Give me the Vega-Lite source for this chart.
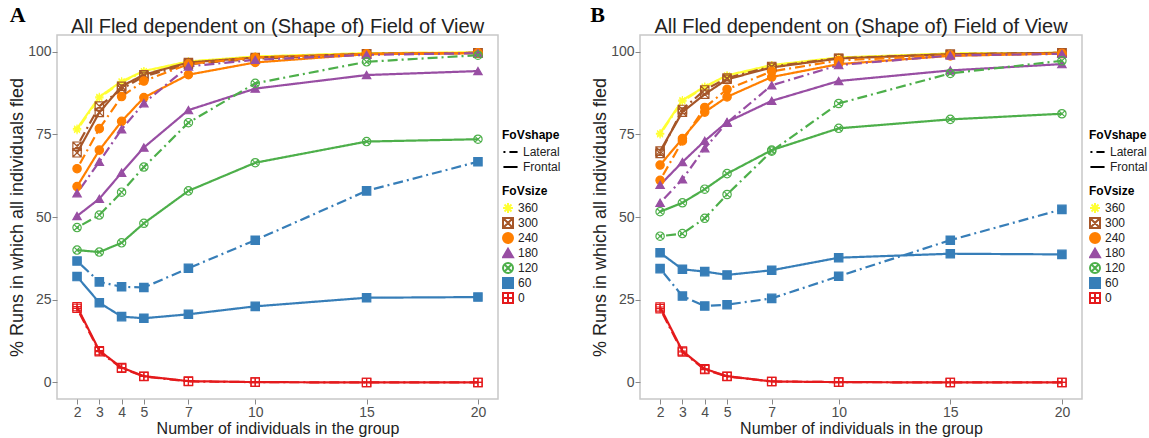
{
  "$schema": "https://vega.github.io/schema/vega-lite/v6.json",
  "background": "white",
  "padding": {"left": 7, "top": 3, "right": 0, "bottom": 0},
  "spacing": 27,
  "config": {
    "font": "Liberation Sans",
    "view": {"stroke": "#c8c8c8", "strokeWidth": 1.5},
    "axis": {"grid": false, "domain": false, "tickColor": "#888888", "tickSize": 5, "labelFontSize": 14, "labelColor": "#4d4d4d", "titleFontSize": 16, "titleFontWeight": "normal", "titleColor": "#222222", "labelPadding": 1},
    "legend": {"titleFontSize": 12, "titleFontWeight": "bold", "labelFontSize": 12, "labelColor": "#222222", "offset": 4, "rowPadding": 1, "clipHeight": 14, "symbolStrokeWidth": 2, "titlePadding": 3, "labelOffset": 4, "layout": {"right": {"anchor": "middle", "direction": "vertical", "margin": 12}}},
    "title": {"fontSize": 20, "fontWeight": "normal", "color": "#222222", "offset": -33}
  },
  "data": {"values": [
    {"panel":"A","shape":"Frontal","size":"360","n":2,"pct":76.7},{"panel":"A","shape":"Frontal","size":"360","n":3,"pct":86.3},{"panel":"A","shape":"Frontal","size":"360","n":4,"pct":91.0},{"panel":"A","shape":"Frontal","size":"360","n":5,"pct":94.1},{"panel":"A","shape":"Frontal","size":"360","n":7,"pct":97.0},{"panel":"A","shape":"Frontal","size":"360","n":10,"pct":98.5},{"panel":"A","shape":"Frontal","size":"360","n":15,"pct":99.5},{"panel":"A","shape":"Frontal","size":"360","n":20,"pct":99.7},
    {"panel":"A","shape":"Lateral","size":"360","n":2,"pct":76.3},{"panel":"A","shape":"Lateral","size":"360","n":3,"pct":86.0},{"panel":"A","shape":"Lateral","size":"360","n":4,"pct":90.8},{"panel":"A","shape":"Lateral","size":"360","n":5,"pct":93.9},{"panel":"A","shape":"Lateral","size":"360","n":7,"pct":96.9},{"panel":"A","shape":"Lateral","size":"360","n":10,"pct":98.4},{"panel":"A","shape":"Lateral","size":"360","n":15,"pct":99.5},{"panel":"A","shape":"Lateral","size":"360","n":20,"pct":99.7},
    {"panel":"A","shape":"Frontal","size":"300","n":2,"pct":69.4},{"panel":"A","shape":"Frontal","size":"300","n":3,"pct":81.6},{"panel":"A","shape":"Frontal","size":"300","n":4,"pct":89.5},{"panel":"A","shape":"Frontal","size":"300","n":5,"pct":93.0},{"panel":"A","shape":"Frontal","size":"300","n":7,"pct":96.7},{"panel":"A","shape":"Frontal","size":"300","n":10,"pct":98.2},{"panel":"A","shape":"Frontal","size":"300","n":15,"pct":99.3},{"panel":"A","shape":"Frontal","size":"300","n":20,"pct":99.6},
    {"panel":"A","shape":"Lateral","size":"300","n":2,"pct":71.4},{"panel":"A","shape":"Lateral","size":"300","n":3,"pct":83.5},{"panel":"A","shape":"Lateral","size":"300","n":4,"pct":88.7},{"panel":"A","shape":"Lateral","size":"300","n":5,"pct":92.5},{"panel":"A","shape":"Lateral","size":"300","n":7,"pct":96.2},{"panel":"A","shape":"Lateral","size":"300","n":10,"pct":97.8},{"panel":"A","shape":"Lateral","size":"300","n":15,"pct":99.3},{"panel":"A","shape":"Lateral","size":"300","n":20,"pct":99.6},
    {"panel":"A","shape":"Frontal","size":"240","n":2,"pct":59.2},{"panel":"A","shape":"Frontal","size":"240","n":3,"pct":70.2},{"panel":"A","shape":"Frontal","size":"240","n":4,"pct":78.9},{"panel":"A","shape":"Frontal","size":"240","n":5,"pct":86.1},{"panel":"A","shape":"Frontal","size":"240","n":7,"pct":93.0},{"panel":"A","shape":"Frontal","size":"240","n":10,"pct":96.7},{"panel":"A","shape":"Frontal","size":"240","n":15,"pct":99.2},{"panel":"A","shape":"Frontal","size":"240","n":20,"pct":99.5},
    {"panel":"A","shape":"Lateral","size":"240","n":2,"pct":64.6},{"panel":"A","shape":"Lateral","size":"240","n":3,"pct":76.7},{"panel":"A","shape":"Lateral","size":"240","n":4,"pct":86.4},{"panel":"A","shape":"Lateral","size":"240","n":5,"pct":91.1},{"panel":"A","shape":"Lateral","size":"240","n":7,"pct":96.2},{"panel":"A","shape":"Lateral","size":"240","n":10,"pct":98.2},{"panel":"A","shape":"Lateral","size":"240","n":15,"pct":99.3},{"panel":"A","shape":"Lateral","size":"240","n":20,"pct":99.6},
    {"panel":"A","shape":"Frontal","size":"180","n":2,"pct":50.3},{"panel":"A","shape":"Frontal","size":"180","n":3,"pct":55.5},{"panel":"A","shape":"Frontal","size":"180","n":4,"pct":63.4},{"panel":"A","shape":"Frontal","size":"180","n":5,"pct":71.0},{"panel":"A","shape":"Frontal","size":"180","n":7,"pct":82.3},{"panel":"A","shape":"Frontal","size":"180","n":10,"pct":88.8},{"panel":"A","shape":"Frontal","size":"180","n":15,"pct":92.9},{"panel":"A","shape":"Frontal","size":"180","n":20,"pct":94.1},
    {"panel":"A","shape":"Lateral","size":"180","n":2,"pct":57.2},{"panel":"A","shape":"Lateral","size":"180","n":3,"pct":66.7},{"panel":"A","shape":"Lateral","size":"180","n":4,"pct":76.5},{"panel":"A","shape":"Lateral","size":"180","n":5,"pct":84.4},{"panel":"A","shape":"Lateral","size":"180","n":7,"pct":95.5},{"panel":"A","shape":"Lateral","size":"180","n":10,"pct":97.5},{"panel":"A","shape":"Lateral","size":"180","n":15,"pct":99.0},{"panel":"A","shape":"Lateral","size":"180","n":20,"pct":99.5},
    {"panel":"A","shape":"Frontal","size":"120","n":2,"pct":40.0},{"panel":"A","shape":"Frontal","size":"120","n":3,"pct":39.4},{"panel":"A","shape":"Frontal","size":"120","n":4,"pct":42.2},{"panel":"A","shape":"Frontal","size":"120","n":5,"pct":48.1},{"panel":"A","shape":"Frontal","size":"120","n":7,"pct":57.9},{"panel":"A","shape":"Frontal","size":"120","n":10,"pct":66.4},{"panel":"A","shape":"Frontal","size":"120","n":15,"pct":72.8},{"panel":"A","shape":"Frontal","size":"120","n":20,"pct":73.5},
    {"panel":"A","shape":"Lateral","size":"120","n":2,"pct":46.8},{"panel":"A","shape":"Lateral","size":"120","n":3,"pct":50.6},{"panel":"A","shape":"Lateral","size":"120","n":4,"pct":57.5},{"panel":"A","shape":"Lateral","size":"120","n":5,"pct":65.1},{"panel":"A","shape":"Lateral","size":"120","n":7,"pct":78.5},{"panel":"A","shape":"Lateral","size":"120","n":10,"pct":90.4},{"panel":"A","shape":"Lateral","size":"120","n":15,"pct":96.9},{"panel":"A","shape":"Lateral","size":"120","n":20,"pct":98.9},
    {"panel":"A","shape":"Frontal","size":"60","n":2,"pct":32.0},{"panel":"A","shape":"Frontal","size":"60","n":3,"pct":24.1},{"panel":"A","shape":"Frontal","size":"60","n":4,"pct":19.9},{"panel":"A","shape":"Frontal","size":"60","n":5,"pct":19.4},{"panel":"A","shape":"Frontal","size":"60","n":7,"pct":20.6},{"panel":"A","shape":"Frontal","size":"60","n":10,"pct":23.0},{"panel":"A","shape":"Frontal","size":"60","n":15,"pct":25.6},{"panel":"A","shape":"Frontal","size":"60","n":20,"pct":25.8},
    {"panel":"A","shape":"Lateral","size":"60","n":2,"pct":36.7},{"panel":"A","shape":"Lateral","size":"60","n":3,"pct":30.4},{"panel":"A","shape":"Lateral","size":"60","n":4,"pct":28.9},{"panel":"A","shape":"Lateral","size":"60","n":5,"pct":28.7},{"panel":"A","shape":"Lateral","size":"60","n":7,"pct":34.5},{"panel":"A","shape":"Lateral","size":"60","n":10,"pct":43.0},{"panel":"A","shape":"Lateral","size":"60","n":15,"pct":57.9},{"panel":"A","shape":"Lateral","size":"60","n":20,"pct":66.7},
    {"panel":"A","shape":"Frontal","size":"0","n":2,"pct":22.9},{"panel":"A","shape":"Frontal","size":"0","n":3,"pct":9.6},{"panel":"A","shape":"Frontal","size":"0","n":4,"pct":4.5},{"panel":"A","shape":"Frontal","size":"0","n":5,"pct":1.9},{"panel":"A","shape":"Frontal","size":"0","n":7,"pct":0.4},{"panel":"A","shape":"Frontal","size":"0","n":10,"pct":0.1},{"panel":"A","shape":"Frontal","size":"0","n":15,"pct":0.0},{"panel":"A","shape":"Frontal","size":"0","n":20,"pct":0.0},
    {"panel":"A","shape":"Lateral","size":"0","n":2,"pct":22.4},{"panel":"A","shape":"Lateral","size":"0","n":3,"pct":9.3},{"panel":"A","shape":"Lateral","size":"0","n":4,"pct":4.3},{"panel":"A","shape":"Lateral","size":"0","n":5,"pct":1.8},{"panel":"A","shape":"Lateral","size":"0","n":7,"pct":0.3},{"panel":"A","shape":"Lateral","size":"0","n":10,"pct":0.1},{"panel":"A","shape":"Lateral","size":"0","n":15,"pct":0.0},{"panel":"A","shape":"Lateral","size":"0","n":20,"pct":0.0},

    {"panel":"B","shape":"Frontal","size":"360","n":2,"pct":75.3},{"panel":"B","shape":"Frontal","size":"360","n":3,"pct":85.3},{"panel":"B","shape":"Frontal","size":"360","n":4,"pct":89.4},{"panel":"B","shape":"Frontal","size":"360","n":5,"pct":92.8},{"panel":"B","shape":"Frontal","size":"360","n":7,"pct":95.9},{"panel":"B","shape":"Frontal","size":"360","n":10,"pct":98.2},{"panel":"B","shape":"Frontal","size":"360","n":15,"pct":99.4},{"panel":"B","shape":"Frontal","size":"360","n":20,"pct":99.6},
    {"panel":"B","shape":"Lateral","size":"360","n":2,"pct":75.0},{"panel":"B","shape":"Lateral","size":"360","n":3,"pct":85.0},{"panel":"B","shape":"Lateral","size":"360","n":4,"pct":89.2},{"panel":"B","shape":"Lateral","size":"360","n":5,"pct":92.6},{"panel":"B","shape":"Lateral","size":"360","n":7,"pct":95.8},{"panel":"B","shape":"Lateral","size":"360","n":10,"pct":98.1},{"panel":"B","shape":"Lateral","size":"360","n":15,"pct":99.4},{"panel":"B","shape":"Lateral","size":"360","n":20,"pct":99.6},
    {"panel":"B","shape":"Frontal","size":"300","n":2,"pct":69.9},{"panel":"B","shape":"Frontal","size":"300","n":3,"pct":81.7},{"panel":"B","shape":"Frontal","size":"300","n":4,"pct":87.1},{"panel":"B","shape":"Frontal","size":"300","n":5,"pct":91.6},{"panel":"B","shape":"Frontal","size":"300","n":7,"pct":95.2},{"panel":"B","shape":"Frontal","size":"300","n":10,"pct":97.9},{"panel":"B","shape":"Frontal","size":"300","n":15,"pct":99.2},{"panel":"B","shape":"Frontal","size":"300","n":20,"pct":99.6},
    {"panel":"B","shape":"Lateral","size":"300","n":2,"pct":69.2},{"panel":"B","shape":"Lateral","size":"300","n":3,"pct":82.5},{"panel":"B","shape":"Lateral","size":"300","n":4,"pct":88.4},{"panel":"B","shape":"Lateral","size":"300","n":5,"pct":92.0},{"panel":"B","shape":"Lateral","size":"300","n":7,"pct":95.5},{"panel":"B","shape":"Lateral","size":"300","n":10,"pct":98.0},{"panel":"B","shape":"Lateral","size":"300","n":15,"pct":99.2},{"panel":"B","shape":"Lateral","size":"300","n":20,"pct":99.6},
    {"panel":"B","shape":"Frontal","size":"240","n":2,"pct":65.7},{"panel":"B","shape":"Frontal","size":"240","n":3,"pct":73.7},{"panel":"B","shape":"Frontal","size":"240","n":4,"pct":81.7},{"panel":"B","shape":"Frontal","size":"240","n":5,"pct":86.3},{"panel":"B","shape":"Frontal","size":"240","n":7,"pct":92.3},{"panel":"B","shape":"Frontal","size":"240","n":10,"pct":96.2},{"panel":"B","shape":"Frontal","size":"240","n":15,"pct":98.7},{"panel":"B","shape":"Frontal","size":"240","n":20,"pct":99.4},
    {"panel":"B","shape":"Lateral","size":"240","n":2,"pct":61.1},{"panel":"B","shape":"Lateral","size":"240","n":3,"pct":73.0},{"panel":"B","shape":"Lateral","size":"240","n":4,"pct":83.1},{"panel":"B","shape":"Lateral","size":"240","n":5,"pct":88.6},{"panel":"B","shape":"Lateral","size":"240","n":7,"pct":94.0},{"panel":"B","shape":"Lateral","size":"240","n":10,"pct":97.3},{"panel":"B","shape":"Lateral","size":"240","n":15,"pct":98.9},{"panel":"B","shape":"Lateral","size":"240","n":20,"pct":99.4},
    {"panel":"B","shape":"Frontal","size":"180","n":2,"pct":59.7},{"panel":"B","shape":"Frontal","size":"180","n":3,"pct":66.6},{"panel":"B","shape":"Frontal","size":"180","n":4,"pct":73.0},{"panel":"B","shape":"Frontal","size":"180","n":5,"pct":78.7},{"panel":"B","shape":"Frontal","size":"180","n":7,"pct":85.1},{"panel":"B","shape":"Frontal","size":"180","n":10,"pct":91.1},{"panel":"B","shape":"Frontal","size":"180","n":15,"pct":94.3},{"panel":"B","shape":"Frontal","size":"180","n":20,"pct":96.2},
    {"panel":"B","shape":"Lateral","size":"180","n":2,"pct":54.3},{"panel":"B","shape":"Lateral","size":"180","n":3,"pct":61.4},{"panel":"B","shape":"Lateral","size":"180","n":4,"pct":70.8},{"panel":"B","shape":"Lateral","size":"180","n":5,"pct":78.5},{"panel":"B","shape":"Lateral","size":"180","n":7,"pct":89.8},{"panel":"B","shape":"Lateral","size":"180","n":10,"pct":95.9},{"panel":"B","shape":"Lateral","size":"180","n":15,"pct":98.8},{"panel":"B","shape":"Lateral","size":"180","n":20,"pct":99.3},
    {"panel":"B","shape":"Frontal","size":"120","n":2,"pct":51.6},{"panel":"B","shape":"Frontal","size":"120","n":3,"pct":54.3},{"panel":"B","shape":"Frontal","size":"120","n":4,"pct":58.4},{"panel":"B","shape":"Frontal","size":"120","n":5,"pct":63.1},{"panel":"B","shape":"Frontal","size":"120","n":7,"pct":70.2},{"panel":"B","shape":"Frontal","size":"120","n":10,"pct":76.8},{"panel":"B","shape":"Frontal","size":"120","n":15,"pct":79.5},{"panel":"B","shape":"Frontal","size":"120","n":20,"pct":81.2},
    {"panel":"B","shape":"Lateral","size":"120","n":2,"pct":44.2},{"panel":"B","shape":"Lateral","size":"120","n":3,"pct":45.0},{"panel":"B","shape":"Lateral","size":"120","n":4,"pct":49.6},{"panel":"B","shape":"Lateral","size":"120","n":5,"pct":56.8},{"panel":"B","shape":"Lateral","size":"120","n":7,"pct":69.9},{"panel":"B","shape":"Lateral","size":"120","n":10,"pct":84.3},{"panel":"B","shape":"Lateral","size":"120","n":15,"pct":93.4},{"panel":"B","shape":"Lateral","size":"120","n":20,"pct":97.2},
    {"panel":"B","shape":"Frontal","size":"60","n":2,"pct":39.2},{"panel":"B","shape":"Frontal","size":"60","n":3,"pct":34.2},{"panel":"B","shape":"Frontal","size":"60","n":4,"pct":33.5},{"panel":"B","shape":"Frontal","size":"60","n":5,"pct":32.5},{"panel":"B","shape":"Frontal","size":"60","n":7,"pct":33.9},{"panel":"B","shape":"Frontal","size":"60","n":10,"pct":37.7},{"panel":"B","shape":"Frontal","size":"60","n":15,"pct":38.9},{"panel":"B","shape":"Frontal","size":"60","n":20,"pct":38.7},
    {"panel":"B","shape":"Lateral","size":"60","n":2,"pct":34.4},{"panel":"B","shape":"Lateral","size":"60","n":3,"pct":26.1},{"panel":"B","shape":"Lateral","size":"60","n":4,"pct":23.1},{"panel":"B","shape":"Lateral","size":"60","n":5,"pct":23.5},{"panel":"B","shape":"Lateral","size":"60","n":7,"pct":25.4},{"panel":"B","shape":"Lateral","size":"60","n":10,"pct":32.1},{"panel":"B","shape":"Lateral","size":"60","n":15,"pct":43.0},{"panel":"B","shape":"Lateral","size":"60","n":20,"pct":52.3},
    {"panel":"B","shape":"Frontal","size":"0","n":2,"pct":22.8},{"panel":"B","shape":"Frontal","size":"0","n":3,"pct":9.5},{"panel":"B","shape":"Frontal","size":"0","n":4,"pct":4.1},{"panel":"B","shape":"Frontal","size":"0","n":5,"pct":1.9},{"panel":"B","shape":"Frontal","size":"0","n":7,"pct":0.3},{"panel":"B","shape":"Frontal","size":"0","n":10,"pct":0.1},{"panel":"B","shape":"Frontal","size":"0","n":15,"pct":0.0},{"panel":"B","shape":"Frontal","size":"0","n":20,"pct":0.0},
    {"panel":"B","shape":"Lateral","size":"0","n":2,"pct":22.3},{"panel":"B","shape":"Lateral","size":"0","n":3,"pct":9.2},{"panel":"B","shape":"Lateral","size":"0","n":4,"pct":3.9},{"panel":"B","shape":"Lateral","size":"0","n":5,"pct":1.8},{"panel":"B","shape":"Lateral","size":"0","n":7,"pct":0.3},{"panel":"B","shape":"Lateral","size":"0","n":10,"pct":0.1},{"panel":"B","shape":"Lateral","size":"0","n":15,"pct":0.0},{"panel":"B","shape":"Lateral","size":"0","n":20,"pct":0.0}
  ]},
  "resolve": {"scale": {"color": "independent", "strokeDash": "independent", "shape": "independent", "fill": "independent"}, "legend": {"color": "independent", "strokeDash": "independent", "shape": "independent", "fill": "independent"}},
  "hconcat": [
    {
      "width": 441, "height": 364,
      "title": {"text": "All Fled dependent on (Shape of) Field of View"},
      "encoding": {
        "x": {"field": "n", "type": "quantitative", "scale": {"domain": [1.1, 20.9], "nice": false, "zero": false}, "axis": {"values": [2,3,4,5,7,10,15,20], "title": "Number of individuals in the group", "titlePadding": 1}},
        "y": {"field": "pct", "type": "quantitative", "scale": {"domain": [-5, 105], "nice": false}, "axis": {"values": [0,25,50,75,100], "title": "% Runs in which all individuals fled", "titleFontSize": 18, "titlePadding": 1}}
      },
      "layer": [
        {"transform": [{"filter": "false"}],
         "mark": {"type": "line"},
         "encoding": {
           "strokeDash": {"field": "shape", "type": "nominal", "scale": {"domain": ["Lateral","Frontal"], "range": [[2,4,10,4],[1,0]]}, "legend": {"title": "FoVshape", "symbolType": "stroke", "symbolStrokeColor": "black", "symbolSize": 200, "symbolOpacity": 1}}
         }},
        {"transform": [{"filter": "datum.panel === 'A'"}],
         "mark": {"type": "line", "strokeWidth": 2.2},
         "encoding": {
           "color": {"field": "size", "type": "nominal", "scale": {"domain": ["360","300","240","180","120","60","0"], "range": ["#FFFF33","#A65628","#FF7F00","#984EA3","#4DAF4A","#377EB8","#E41A1C"]}, "legend": {"title": "FoVsize"}},
           "strokeDash": {"field": "shape", "type": "nominal", "legend": {"title": "FoVshape", "symbolType": "stroke", "symbolStrokeColor": "black", "symbolSize": 200, "symbolOpacity": 1}},
           "detail": {"field": "shape"}
         }},
        {"transform": [{"filter": "datum.panel === 'A'"}],
         "mark": {"type": "point", "filled": false, "size": 70, "strokeWidth": 1.2, "opacity": 1},
         "encoding": {
           "color": {"field": "size", "type": "nominal", "legend": {"title": "FoVsize"}},
           "shape": {"field": "size", "type": "nominal", "scale": {"domain": ["360","300","240","180","120","60","0"], "range": ["M-1,0H1M0,-1V1M-0.7,-0.7L0.7,0.7M-0.7,0.7L0.7,-0.7","M-1,-1H1V1H-1ZM-1,-1L1,1M-1,1L1,-1","circle","triangle-up","M-1,0A1,1 0 1,0 1,0A1,1 0 1,0 -1,0ZM-0.7,-0.7L0.7,0.7M-0.7,0.7L0.7,-0.7","square","M-1,-1H1V1H-1ZM0,-1V1M-1,0H1"]}, "legend": {"title": "FoVsize"}},
           "fill": {"field": "size", "type": "nominal", "scale": {"domain": ["360","300","240","180","120","60","0"], "range": ["transparent","transparent","#FF7F00","#984EA3","transparent","#377EB8","transparent"]}, "legend": {"title": "FoVsize"}}
         }},
        {"transform": [{"filter": "datum.panel === 'A' && datum.n === 2 && datum.size === '360' && datum.shape === 'Frontal'"}],
         "mark": {"type": "text", "font": "Liberation Serif", "fontWeight": "bold", "fontSize": 22, "align": "center", "baseline": "alphabetic", "color": "black", "clip": false},
         "encoding": {"text": {"field": "panel", "type": "nominal"}, "x": {"datum": -0.67}, "y": {"datum": 108.8}}}
      ]
    },
    {
      "width": 442, "height": 364,
      "title": {"text": "All Fled dependent on (Shape of) Field of View"},
      "encoding": {
        "x": {"field": "n", "type": "quantitative", "scale": {"domain": [1.1, 20.9], "nice": false, "zero": false}, "axis": {"values": [2,3,4,5,7,10,15,20], "title": "Number of individuals in the group", "titlePadding": 1}},
        "y": {"field": "pct", "type": "quantitative", "scale": {"domain": [-5, 105], "nice": false}, "axis": {"values": [0,25,50,75,100], "title": "% Runs in which all individuals fled", "titleFontSize": 18, "titlePadding": 1}}
      },
      "layer": [
        {"transform": [{"filter": "false"}],
         "mark": {"type": "line"},
         "encoding": {
           "strokeDash": {"field": "shape", "type": "nominal", "scale": {"domain": ["Lateral","Frontal"], "range": [[2,4,10,4],[1,0]]}, "legend": {"title": "FoVshape", "symbolType": "stroke", "symbolStrokeColor": "black", "symbolSize": 200, "symbolOpacity": 1, "offset": 7}}
         }},
        {"transform": [{"filter": "datum.panel === 'B'"}],
         "mark": {"type": "line", "strokeWidth": 2.2},
         "encoding": {
           "color": {"field": "size", "type": "nominal", "scale": {"domain": ["360","300","240","180","120","60","0"], "range": ["#FFFF33","#A65628","#FF7F00","#984EA3","#4DAF4A","#377EB8","#E41A1C"]}, "legend": {"title": "FoVsize", "offset": 7}},
           "strokeDash": {"field": "shape", "type": "nominal", "legend": {"title": "FoVshape", "symbolType": "stroke", "symbolStrokeColor": "black", "symbolSize": 200, "symbolOpacity": 1, "offset": 7}},
           "detail": {"field": "shape"}
         }},
        {"transform": [{"filter": "datum.panel === 'B'"}],
         "mark": {"type": "point", "filled": false, "size": 70, "strokeWidth": 1.2, "opacity": 1},
         "encoding": {
           "color": {"field": "size", "type": "nominal", "legend": {"title": "FoVsize", "offset": 7}},
           "shape": {"field": "size", "type": "nominal", "scale": {"domain": ["360","300","240","180","120","60","0"], "range": ["M-1,0H1M0,-1V1M-0.7,-0.7L0.7,0.7M-0.7,0.7L0.7,-0.7","M-1,-1H1V1H-1ZM-1,-1L1,1M-1,1L1,-1","circle","triangle-up","M-1,0A1,1 0 1,0 1,0A1,1 0 1,0 -1,0ZM-0.7,-0.7L0.7,0.7M-0.7,0.7L0.7,-0.7","square","M-1,-1H1V1H-1ZM0,-1V1M-1,0H1"]}, "legend": {"title": "FoVsize", "offset": 7}},
           "fill": {"field": "size", "type": "nominal", "scale": {"domain": ["360","300","240","180","120","60","0"], "range": ["transparent","transparent","#FF7F00","#984EA3","transparent","#377EB8","transparent"]}, "legend": {"title": "FoVsize", "offset": 7}}
         }},
        {"transform": [{"filter": "datum.panel === 'B' && datum.n === 2 && datum.size === '360' && datum.shape === 'Frontal'"}],
         "mark": {"type": "text", "font": "Liberation Serif", "fontWeight": "bold", "fontSize": 22, "align": "center", "baseline": "alphabetic", "color": "black", "clip": false},
         "encoding": {"text": {"field": "panel", "type": "nominal"}, "x": {"datum": -0.8}, "y": {"datum": 108.8}}}
      ]
    }
  ]
}
